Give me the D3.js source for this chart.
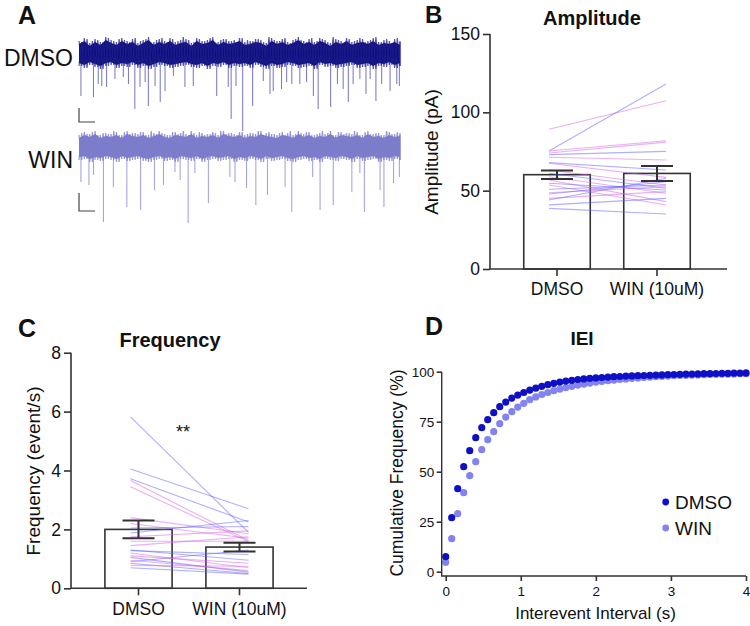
<!DOCTYPE html>
<html><head><meta charset="utf-8">
<script src="https://cdn.jsdelivr.net/npm/d3@7"></script>
<style>body{margin:0;background:#fff} text{font-family:"Liberation Sans",Arial,Helvetica,sans-serif;fill:#111}</style>
</head><body><svg id="c" width="750" height="626"></svg>
<script>
// ---------------- DATA ----------------
const categories = ["DMSO", "WIN (10uM)"];

// Panel B: amplitude (pA)
const ampMeans = [60.2, 61.0];
const ampSems  = [2.7, 4.8];
const ampDMSO  = [89.2, 75.3, 75.3, 74.0, 73.0, 71.3, 67.9, 67.5, 63.2, 61.1, 58.9, 56.8, 54.7, 53.6, 50.9, 48.7, 47.9, 45.1, 44.0, 40.9, 38.7];
const ampWIN   = [107.4,118.1, 81.9, 81.0, 75.1, 69.6, 63.2, 58.5, 53.6, 51.5, 48.3, 43.0, 50.4, 40.9, 53.6, 52.6, 55.7, 49.4, 57.9, 45.1, 35.1];
const ampHue   = ["p","b","p","p","b","p","b","p","p","b","p","p","b","p","b","p","b","p","b","b","b"];
const ampTicks = [0, 50, 100, 150];

// Panel C: frequency (event/s)
const freqMeans = [2.0, 1.4];
const freqSems  = [0.3, 0.15];
const freqDMSO  = [5.82, 4.05, 3.72, 3.66, 3.45, 2.40, 2.20, 2.05, 1.88, 1.75, 1.60, 1.45, 1.30, 1.28, 1.20, 1.10, 1.05, 0.95, 0.90, 0.85, 0.78, 0.70];
const freqWIN   = [1.90, 2.70, 2.25, 1.62, 1.58, 1.85, 1.70, 2.10, 2.30, 1.95, 1.60, 1.75, 0.95, 1.15, 0.70, 0.85, 0.55, 0.60, 1.30, 0.50, 0.75, 0.48];
const freqHue   = ["b","b","b","p","p","p","p","b","b","p","p","p","b","b","p","p","b","p","b","b","p","b"];
const freqTicks = [0, 2, 4, 6, 8];

// Panel D: cumulative IEI distribution
const ieiBins = [0,0.08,0.16,0.24,0.32,0.4,0.48,0.56,0.64,0.72,0.8,0.88,0.96,1.04,1.12,1.2,1.28,1.36,1.44,1.52,1.6,1.68,1.76,1.84,1.92,2.0,2.08,2.16,2.24,2.32,2.4,2.48,2.56,2.64,2.72,2.8,2.88,2.96,3.04,3.12,3.2,3.28,3.36,3.44,3.52,3.6,3.68,3.76,3.84,3.92,4.0];
const ieiDMSO = [7.5,27,41.5,52.5,60.5,67,72,76,79.5,82.5,84.8,86.8,88.3,89.6,90.8,91.8,92.7,93.5,94.2,94.8,95.3,95.7,96.1,96.4,96.7,96.9,97.1,97.3,97.5,97.6,97.8,97.9,98.0,98.1,98.2,98.3,98.4,98.5,98.6,98.7,98.8,98.8,98.9,99.0,99.0,99.1,99.2,99.2,99.3,99.3,99.4];
const ieiWIN  = [4.7,16.5,29,39.5,48,55,61,66,70,74,77.3,80,82.3,84.2,86,87.4,88.6,89.6,90.5,91.3,92,92.7,93.3,93.8,94.3,94.8,95.2,95.5,95.8,96.1,96.4,96.7,96.9,97.1,97.3,97.5,97.7,97.8,98.0,98.1,98.2,98.3,98.4,98.5,98.6,98.7,98.8,98.8,98.9,99.0,99.0];
const ieiXTicks = [0, 1, 2, 3, 4];
const ieiYTicks = [0, 25, 50, 75, 100];
const legendLabels = ["DMSO", "WIN"];

// Panel A: example traces (time in % of sweep, currents in pA relative to baseline)
const traceLabels = ["DMSO", "WIN"];
const dmsoEventT = [0.6,4.5,6.0,7.1,8.6,11.2,13.8,15.4,17.4,19.0,20.6,21.6,23.7,25.3,26.8,29.4,33.0,35.6,42.9,46.5,47.4,48.9,51.0,54.1,57.4,59.5,60.5,63.1,64.7,66.3,68.8,70.9,73.0,74.5,78.4,80.5,82.3,83.9,85.4,87.5,89.4,90.7,92.5,94.3,96.9,99.0,99.8];
const dmsoEventA = [42,43,30,32,33,25,23,30,55,33,28,52,32,48,37,22,33,32,42,33,65,32,77,52,27,40,37,35,28,30,30,28,42,55,53,30,35,48,30,25,40,25,47,30,37,30,32];
const winEventT  = [0.6,3.1,4.5,7.6,10.7,14.9,19.2,23.5,26.3,29.9,31.5,34.0,36.1,40.3,47.0,48.6,52.2,55.1,58.7,64.2,66.3,72.8,75.1,79.2,85.0,87.5,88.9,93.8,95.0,98.0,99.8];
const winEventA  = [35,38,28,75,40,60,63,43,38,25,33,76,26,56,30,35,41,58,48,40,65,30,63,58,45,26,65,43,60,36,30];
const dmsoNoiseUp = [13,16,11,15,12,17,14,12,16,13,15,11,14,17,12,15,13,16,12,14,15,11,16,13,14,17,12,15,13,14,16,12,13,15,14,11,16,13,15,12,14,17,13,15,12,16,14,11,15,13,16,12,14,15,13,16,12,14,13,15,12];
const dmsoNoiseDn = [12,14,11,13,15,12,11,14,12,13,11,14,12,15,13,11,12,14,13,12,11,13,14,12,15,12,13,11,14,12,13,12,14,11,13,15,12,14,13,11,12,14,13,12,15,11,13,12,14,13,12,11,14,13,12,15,12,13,11,14,12];
const winNoiseUp  = [12,15,13,16,12,14,13,15,12,16,14,13,15,12,14,16,13,12,15,14,13,16,12,14,13,15,12,16,14,13,15,12,14,13,16,14,13,12,15,14,12,16,13,15,12,14,13,16,12,15,14,13,15,12,16,13,14,12,15,13,14];
const winNoiseDn  = [13,12,15,13,14,12,13,15,12,14,13,12,14,15,13,12,14,13,15,12,13,14,12,15,13,12,14,13,12,15,13,14,12,13,15,12,14,13,12,14,15,13,12,14,13,15,12,13,14,12,13,15,12,14,13,12,15,13,14,12,13];

// ---------------- STYLE / LAYOUT ----------------
const AX = "#333", BLUE_L = "rgba(95,95,255,0.5)", PINK_L = "rgba(215,95,230,0.5)";
const svg = d3.select("#c");
svg.append("rect").attr("width",750).attr("height",626).attr("fill","#fff");

function letter(t, x, y, fs){ svg.append("text").attr("x",x).attr("y",y).attr("font-size",fs).attr("font-weight","bold").text(t); }
letter("A", 18, 24, 25); letter("B", 425, 23, 24); letter("C", 18, 337, 25); letter("D", 425, 335, 25);

function styleAxis(g, fs){
  g.selectAll("path.domain").remove();
  g.selectAll(".tick line").attr("stroke",AX).attr("stroke-width",1.6);
  g.selectAll(".tick text").attr("font-size",fs).attr("fill","#111");
}

// ---------------- PANEL A ----------------
(function(){
  const tx = d3.scaleLinear().domain([0,100]).range([79,400]);
  const n = dmsoNoiseUp.length;
  const noiseT = d3.range(n).map(i => i*100/(n-1));
  const half = 50/(n-1);
  const traces = [
    {base:54, up:dmsoNoiseUp, dn:dmsoNoiseDn, et:dmsoEventT, ea:dmsoEventA, band:"#0d0d7c", edge:"rgba(30,30,140,0.75)", ev:"rgba(80,80,180,0.8)", bar:[108,122]},
    {base:147, up:winNoiseUp, dn:winNoiseDn, et:winEventT, ea:winEventA, band:"#7c7cc8", edge:"rgba(125,125,205,0.8)", ev:"rgba(140,140,215,0.85)", bar:[193,211]}
  ];
  traces.forEach((tr,k) => {
    const ty = d3.scaleLinear().domain([0,-100]).range([tr.base, tr.base+100]);
    const g = svg.append("g");
    g.selectAll("line.ev").data(tr.et).join("line")
      .attr("x1",d=>tx(d)).attr("x2",d=>tx(d))
      .attr("y1",ty(0)).attr("y2",(d,i)=>ty(-tr.ea[i]))
      .attr("stroke",tr.ev).attr("stroke-width",1);
    const area = d3.area().x((d,i)=>tx(noiseT[i])).y0((d,i)=>ty(-tr.dn[i]+3)).y1((d,i)=>ty(tr.up[i]-3));
    g.append("path").datum(tr.up).attr("d",area).attr("fill",tr.band);
    const pts = [];
    tr.up.forEach((u,i) => { pts.push([tx(noiseT[i]), ty(u)]); pts.push([tx(Math.min(100,noiseT[i]+half)), ty(-tr.dn[i])]); });
    g.append("path").attr("d",d3.line()(pts)).attr("fill","none").attr("stroke",tr.edge).attr("stroke-width",1.2);
    const pts2 = [];
    tr.dn.forEach((u,i) => { pts2.push([tx(noiseT[i]), ty(-u)]); pts2.push([tx(Math.min(100,noiseT[i]+half)), ty(tr.up[n-1-i])]); });
    g.append("path").attr("d",d3.line()(pts2)).attr("fill","none").attr("stroke",tr.edge).attr("stroke-width",1.2);
    g.append("path").attr("d",`M79,${tr.bar[0]}V${tr.bar[1]}H95`).attr("fill","none").attr("stroke","#444").attr("stroke-width",1.2);
    svg.append("text").attr("x",73).attr("y",k===0?66:168).attr("text-anchor","end").attr("font-size",23).text(traceLabels[k]);
  });
})();

// ---------------- BAR PANELS ----------------
function barPanel(o){
  const y = d3.scaleLinear().domain(o.domain).range([o.yBot, o.yTop]);
  const x = d3.scaleBand().domain(categories).range(o.bandRange).paddingInner(0.335).paddingOuter(0.1675);
  const cx = c => x(c) + x.bandwidth()/2;
  const g = svg.append("g");
  g.selectAll("rect.bar").data(o.means).join("rect")
    .attr("x",(d,i)=>x(categories[i])).attr("width",x.bandwidth())
    .attr("y",d=>y(d)).attr("height",d=>y(0)-y(d))
    .attr("fill","#fff").attr("stroke",AX).attr("stroke-width",1.6);
  g.selectAll("line.pair").data(o.a).join("line")
    .attr("x1",cx(categories[0])-8).attr("x2",cx(categories[1])+9)
    .attr("y1",d=>y(d)).attr("y2",(d,i)=>y(o.b[i]))
    .attr("stroke",(d,i)=>o.hue[i]==="b"?BLUE_L:PINK_L).attr("stroke-width",1.1);
  o.means.forEach((m,i) => {
    const c = cx(categories[i]), s = o.sems[i];
    g.append("path").attr("d",`M${c},${y(m-s)}V${y(m+s)}M${c-16},${y(m+s)}H${c+16}M${c-16},${y(m-s)}H${c+16}`)
      .attr("stroke",AX).attr("stroke-width",2).attr("fill","none");
  });
  const ya = g.append("g").attr("transform",`translate(${o.xLeft},0)`).call(d3.axisLeft(y).tickValues(o.ticks).tickSize(7).tickPadding(3).tickSizeOuter(0));
  styleAxis(ya, 17.5);
  const xa = g.append("g").attr("transform",`translate(0,${o.yBot})`).call(d3.axisBottom(x).tickSize(7).tickPadding(7).tickSizeOuter(0));
  styleAxis(xa, 17.5);
  g.append("path").attr("d",`M${o.xLeft},${o.yTop}V${o.yBot}H${o.xRight}`).attr("fill","none").attr("stroke",AX).attr("stroke-width",1.6);
  svg.append("text").attr("x",o.title[1]).attr("y",o.title[2]).attr("text-anchor","middle").attr("font-size",20).attr("font-weight","bold").text(o.title[0]);
  svg.append("text").attr("transform",`translate(${o.ylab[1]},${o.ylab[2]}) rotate(-90)`).attr("dy","0.35em").attr("text-anchor","middle").attr("font-size",19).text(o.ylab[0]);
  return {x,y,cx};
}

barPanel({domain:[0,150], yTop:34, yBot:269, xLeft:490, xRight:727, bandRange:[507,707],
  means:ampMeans, sems:ampSems, a:ampDMSO, b:ampWIN, hue:ampHue, ticks:ampTicks,
  title:["Amplitude",592,25], ylab:["Amplitude (pA)",431.5,152]});

const pc = barPanel({domain:[0,8], yTop:352.7, yBot:588.3, xLeft:71, xRight:307, bandRange:[88,290],
  means:freqMeans, sems:freqSems, a:freqDMSO, b:freqWIN, hue:freqHue, ticks:freqTicks,
  title:["Frequency",170,346.5], ylab:["Frequency (event/s)",33.5,471]});
svg.append("text").attr("x",(pc.cx(categories[0])+pc.cx(categories[1]))/2-6).attr("y",pc.y(5.1)).attr("text-anchor","middle").attr("font-size",18).text("**");

// ---------------- PANEL D ----------------
(function(){
  const x = d3.scaleLinear().domain([0,4]).range([445.7,746]);
  const y = d3.scaleLinear().domain([0,100]).range([571.7,371.7]);
  const g = svg.append("g");
  const series = [{v:ieiWIN, c:"#8282f0"}, {v:ieiDMSO, c:"#0f0fc8"}];
  series.forEach(s => {
    g.append("g").selectAll("circle").data(s.v).join("circle")
      .attr("cx",(d,i)=>x(ieiBins[i])).attr("cy",d=>y(d)).attr("r",3.6).attr("fill",s.c);
  });
  const ya = g.append("g").attr("transform","translate(441.7,0)").call(d3.axisLeft(y).tickValues(ieiYTicks).tickSize(5).tickPadding(2.5));
  styleAxis(ya, 13.5);
  const xa = g.append("g").attr("transform","translate(0,576)").call(d3.axisBottom(x).tickValues(ieiXTicks).tickFormat(d3.format("d")).tickSize(5).tickPadding(5));
  styleAxis(xa, 13.5);
  g.append("path").attr("d",`M441.7,${y(100)}V576H${x(4)}`).attr("fill","none").attr("stroke",AX).attr("stroke-width",1.4);
  svg.append("text").attr("x",582).attr("y",345).attr("text-anchor","middle").attr("font-size",19).attr("font-weight","bold").text("IEI");
  svg.append("text").attr("x",595.5).attr("y",619).attr("text-anchor","middle").attr("font-size",17).text("Interevent Interval (s)");
  svg.append("text").attr("transform","translate(397,473) rotate(-90)").attr("dy","0.35em").attr("text-anchor","middle").attr("font-size",17.5).text("Cumulative Frequency (%)");
  const lc = ["#0f0fc8","#8282f0"];
  legendLabels.forEach((t,i) => {
    svg.append("circle").attr("cx",665.7).attr("cy",502+26*i).attr("r",3.4).attr("fill",lc[i]);
    svg.append("text").attr("x",675).attr("y",502+26*i).attr("dy","0.35em").attr("font-size",19).text(t);
  });
})();
</script></body></html>
